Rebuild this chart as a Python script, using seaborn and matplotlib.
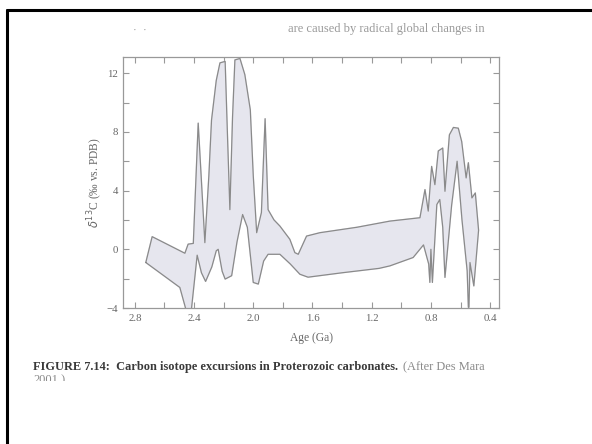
import numpy as np
import pandas as pd
import matplotlib
matplotlib.use("Agg")
import matplotlib.pyplot as plt
import seaborn as sns
from matplotlib.lines import Line2D
from matplotlib.ticker import MultipleLocator
from matplotlib.transforms import Bbox

# Upper boundary of the δ13C envelope (age in Ga, value in permil), old -> young
upper_age = [2.726, 2.683, 2.462, 2.44, 2.405, 2.372, 2.327, 2.30, 2.282, 2.25, 2.225,
             2.19, 2.175, 2.158, 2.14, 2.124, 2.09, 2.057, 2.02, 2.0, 1.977, 1.945,
             1.92, 1.9, 1.86, 1.82, 1.753, 1.719, 1.696, 1.64, 1.55, 1.30, 1.077,
             0.874, 0.84, 0.818, 0.795, 0.773, 0.75, 0.72, 0.705, 0.675, 0.648,
             0.615, 0.592, 0.562, 0.547, 0.523, 0.50, 0.478]
upper_val = [-0.9, 0.86, -0.27, 0.35, 0.4, 8.6, 0.45, 5.0, 8.8, 11.5, 12.7,
             12.8, 8.0, 2.7, 9.0, 12.9, 13.0, 11.9, 9.5, 5.0, 1.13, 2.5,
             8.9, 2.7, 2.0, 1.58, 0.68, -0.23, -0.34, 0.9, 1.13, 1.5, 1.92,
             2.15, 4.07, 2.6, 5.65, 4.4, 6.7, 6.9, 3.95, 7.8, 8.3,
             8.25, 7.34, 4.86, 5.9, 3.5, 3.84, 1.3]

# Lower boundary of the envelope, old -> young
lower_age = [2.726, 2.496, 2.462, 2.45, 2.42, 2.379, 2.35, 2.322, 2.28, 2.25, 2.237,
             2.21, 2.19, 2.146, 2.11, 2.072, 2.04, 2.0, 1.966, 1.93, 1.9, 1.82,
             1.75, 1.685, 1.63, 1.40, 1.15, 1.077, 0.92, 0.85, 0.815, 0.807,
             0.80, 0.79, 0.76, 0.74, 0.72, 0.705, 0.66, 0.623, 0.59, 0.555,
             0.547, 0.543, 0.536, 0.51, 0.478]
lower_val = [-0.9, -2.6, -3.84, -4.3, -4.3, -0.4, -1.6, -2.19, -1.2, -0.1, 0.0,
             -1.5, -2.03, -1.8, 0.5, 2.37, 1.5, -2.26, -2.37, -0.8, -0.34, -0.34,
             -1.0, -1.7, -1.9, -1.6, -1.3, -1.13, -0.56, 0.3, -1.0, -2.26,
             0.0, -2.26, 3.05, 3.39, 1.5, -1.92, 3.0, 6.0, 2.0, -1.47,
             -3.95, -3.95, -0.9, -2.5, 1.3]

x_ticks = [2.8, 2.4, 2.0, 1.6, 1.2, 0.8, 0.4]
x_tick_labels = ["2.8", "2.4", "2.0", "1.6", "1.2", "0.8", "0.4"]
y_ticks = [-4, 0, 4, 8, 12]
y_tick_labels = ["\u22124", "0", "4", "8", "12"]

sns.set_style("ticks")
plt.rcParams["font.family"] = ["Liberation Serif", "DejaVu Serif"]

fig = plt.figure(figsize=(5.92, 4.44), dpi=100)
ax = fig.add_axes([123 / 592, 1 - 308 / 444, 376 / 592, 251 / 444])

poly_x = upper_age + lower_age[::-1]
poly_y = upper_val + lower_val[::-1]
outline = pd.DataFrame({"age": poly_x, "d13C": poly_y})

ax.fill(outline["age"], outline["d13C"], color="#e6e6ee", zorder=1)
sns.lineplot(data=outline, x="age", y="d13C", sort=False, estimator=None,
             color="#8a8a8a", linewidth=0.9, ax=ax, zorder=2)

ax.set_xlim(2.88, 0.34)
ax.set_ylim(-4, 13.1)
ax.set_xticks(x_ticks)
ax.set_xticklabels(x_tick_labels)
ax.set_yticks(y_ticks)
ax.set_yticklabels(y_tick_labels)
ax.xaxis.set_minor_locator(MultipleLocator(0.2))
ax.yaxis.set_minor_locator(MultipleLocator(2))
ax.tick_params(which="both", direction="in", top=True, right=True,
               color="#999999", labelcolor="#666666", labelsize=7.8, width=0.8)
ax.tick_params(which="major", length=4)
ax.tick_params(which="minor", length=4)
ax.tick_params(axis="x", pad=4)
for s in ax.spines.values():
    s.set_color("#999999")
    s.set_linewidth(0.9)

ax.set_xlabel("Age (Ga)", color="#666666", fontsize=8.3, labelpad=7)
ax.set_ylabel("$\\delta^{13}$C (\u2030 vs. PDB)", color="#666666", fontsize=8.3, labelpad=1)

# Text above the chart (cut-off line from the page)
fig.text(485 / 592, 1 - 29 / 444, "are caused by radical global changes in",
         ha="right", va="center", color="#9a9a9a", fontsize=9)
fig.text(135 / 592, 1 - 30 / 444, "\u00b7", ha="center", va="center", color="#9a9a9a", fontsize=8)
fig.text(145 / 592, 1 - 30 / 444, "\u00b7", ha="center", va="center", color="#9a9a9a", fontsize=8)

# Caption
t1 = fig.text(33 / 592, 1 - 367 / 444,
              "FIGURE 7.14:  Carbon isotope excursions in Proterozoic carbonates.",
              ha="left", va="center", color="#3a3a3a", fontsize=8.9, fontweight="bold")
fig.canvas.draw()
bb = t1.get_window_extent()
fig.text(bb.x1 / 592 + 0.008, 1 - 367 / 444, "(After Des Mara",
         ha="left", va="center", color="#8a8a8a", fontsize=8.9)
t3 = fig.text(33 / 592, 1 - 380 / 444, "2001.)", ha="left", va="center",
              color="#8a8a8a", fontsize=8.9)
t3.set_clip_box(Bbox.from_extents(0, 444 - 381, 592, 444))
t3.set_clip_on(True)

# Page frame lines (top and left)
fig.add_artist(Line2D([7 / 592, 1], [1 - 10 / 444, 1 - 10 / 444], color="black",
                      linewidth=2.2, transform=fig.transFigure))
fig.add_artist(Line2D([7 / 592, 7 / 592], [1 - 10 / 444, 0], color="black",
                      linewidth=2.2, transform=fig.transFigure))

fig.savefig("out.png", dpi=100)
